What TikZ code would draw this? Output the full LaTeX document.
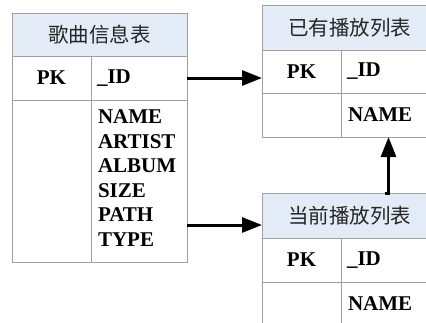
\documentclass[tikz,border=0pt]{standalone}
\usepackage{fontspec}
\setmainfont{Liberation Serif}
\newfontfamily\cjk{Noto Sans CJK SC}
\usetikzlibrary{arrows.meta}
\definecolor{hdr}{RGB}{227,235,247}
\definecolor{gridc}{RGB}{160,160,160}
\tikzset{
  cell/.style={draw=gridc, line width=0.8pt, inner sep=0pt, outer sep=0pt, anchor=north west},
  hdrcell/.style={cell, fill=hdr, font=\cjk\fontsize{20.5}{24}\selectfont, text=black!85},
  txt/.style={font=\bfseries\fontsize{21}{24.5}\selectfont, inner sep=0pt, outer sep=0pt},
  link/.style={line width=3pt, -{Triangle[length=20pt,width=15pt]}}
}
\begin{document}
\begin{tikzpicture}[x=1pt,y=-1pt]
\clip (0,0) rectangle (426,322);
% song info table
\node[hdrcell, minimum width=175pt, minimum height=43pt] (s-title) at (12,13) {歌曲信息表};
\node[cell, txt, minimum width=79pt, minimum height=44pt] (s-pk) at (12,56) {PK};
\node[cell, minimum width=96pt, minimum height=44pt] (s-id) at (91,56) {};
\node[txt, anchor=west] (s-id-t) at ([xshift=6pt]s-id.west) {\_ID};
\node[cell, minimum width=79pt, minimum height=162pt] (s-pkb) at (12,100) {};
\node[cell, minimum width=96pt, minimum height=162pt] (s-fields) at (91,100) {};
\node[txt, anchor=north west, align=left] (s-list) at (98,110) {NAME\\ARTIST\\ALBUM\\SIZE\\PATH\\TYPE};
% existing playlist
\node[hdrcell, minimum width=175pt, minimum height=45pt] (p-title) at (262,5) {已有播放列表};
\node[cell, txt, minimum width=79pt, minimum height=43pt] (p-pk) at (262,50) {PK};
\node[cell, minimum width=96pt, minimum height=43pt] (p-id) at (341,50) {};
\node[txt, anchor=west] (p-id-t) at ([xshift=6pt]p-id.west) {\_ID};
\node[cell, minimum width=79pt, minimum height=44pt] (p-pkb) at (262,93) {};
\node[cell, minimum width=96pt, minimum height=44pt] (p-name) at (341,93) {};
\node[txt, anchor=west] (p-name-t) at ([xshift=7pt]p-name.west) {NAME};
% current playlist
\node[hdrcell, minimum width=175pt, minimum height=45pt] (c-title) at (262,193) {当前播放列表};
\node[cell, txt, minimum width=79pt, minimum height=44pt] (c-pk) at (262,238) {PK};
\node[cell, minimum width=96pt, minimum height=44pt] (c-id) at (341,238) {};
\node[txt, anchor=west] (c-id-t) at ([xshift=6pt]c-id.west) {\_ID};
\node[cell, minimum width=79pt, minimum height=44pt] (c-pkb) at (262,282) {};
\node[cell, minimum width=96pt, minimum height=44pt] (c-name) at (341,282) {};
\node[txt, anchor=west] (c-name-t) at ([xshift=7pt]c-name.west) {NAME};
% connectors
\draw[link] (s-id.east) -- (s-id.east -| p-pk.west);
\coordinate (pathout) at ([yshift=-44pt]s-fields.east);
\draw[link] (pathout) -- (pathout -| c-title.west);
\coordinate (vstart) at ([xshift=35pt]c-title.north);
\coordinate (vx) at ([xshift=39pt]c-title.north);
\draw[link] (vstart) -| (vx |- p-name.south);
\end{tikzpicture}
\end{document}
